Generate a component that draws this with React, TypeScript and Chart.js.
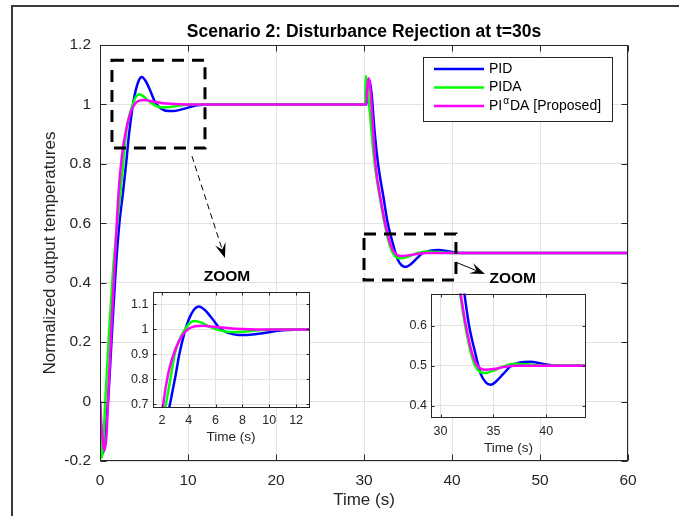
import React, { useEffect, useRef } from "react";
import { Chart, registerables } from "chart.js";

Chart.register(...registerables);

const FONT = "'Liberation Sans', Arial, Helvetica, sans-serif";
const INK = "#262626";
const GRID = "#e2e2e2";

// ---- Series data ----
const T_PID = [0, 0.15, 0.3, 0.5, 0.75, 1.0, 1.3, 1.8, 2.2, 2.6, 3.0, 3.3, 3.7, 4.0, 4.4, 4.75, 5.2, 5.8, 6.3, 7.0, 7.7, 8.4, 9.5, 11, 13, 30, 30.3, 30.45, 30.6, 30.85, 31.2, 31.6, 32.2, 32.7, 33.3, 33.8, 34.3, 34.75, 35.3, 36.0, 36.7, 37.5, 38.5, 39.5, 41, 44, 60];
const Y_PID = [0, -0.12, -0.175, -0.15, -0.06, 0.04, 0.2, 0.45, 0.6, 0.7, 0.81, 0.9, 0.99, 1.04, 1.08, 1.092, 1.078, 1.04, 1.005, 0.985, 0.978, 0.978, 0.985, 0.997, 1.0, 1.0, 1.0, 1.06, 1.082, 1.04, 0.91, 0.8, 0.69, 0.6, 0.53, 0.48, 0.458, 0.453, 0.462, 0.482, 0.5, 0.508, 0.51, 0.506, 0.5, 0.5, 0.5];

const T_PIDA = [0, 0.1, 0.2, 0.35, 0.6, 1.0, 1.5, 1.9, 2.3, 2.6, 2.95, 3.4, 3.84, 4.1, 4.45, 4.9, 5.5, 6.2, 7.0, 8.0, 9.0, 10.5, 12, 30, 30.12, 30.2, 30.35, 30.7, 31.0, 31.3, 31.9, 32.4, 33.0, 33.5, 34.2, 35.0, 36.0, 37.0, 38.5, 40, 60];
const Y_PIDA = [0, -0.15, -0.19, -0.15, 0.0, 0.22, 0.45, 0.58, 0.7, 0.79, 0.9, 0.97, 1.01, 1.027, 1.034, 1.028, 1.012, 0.998, 0.99, 0.991, 0.996, 1.0, 1.0, 1.0, 1.0, 1.096, 1.07, 0.96, 0.86, 0.78, 0.67, 0.59, 0.52, 0.49, 0.482, 0.488, 0.499, 0.505, 0.503, 0.5, 0.5];

const T_PIADA = [0, 0.2, 0.5, 0.75, 1.0, 1.3, 1.6, 2.1, 2.5, 3.0, 3.5, 4.0, 4.5, 5.0, 6.0, 7.0, 8.0, 10, 30, 30.25, 30.35, 30.5, 30.7, 31.0, 31.3, 31.9, 32.4, 33.0, 33.5, 34.2, 35.0, 36.0, 37.0, 60];
const Y_PIADA = [0, -0.09, -0.165, -0.11, 0.06, 0.25, 0.42, 0.7, 0.83, 0.92, 0.975, 1.003, 1.013, 1.015, 1.01, 1.005, 1.002, 1.0, 1.0, 1.0, 1.05, 1.088, 1.06, 0.93, 0.8, 0.68, 0.6, 0.53, 0.5, 0.49, 0.492, 0.497, 0.5, 0.5];

const SERIES_LABELS = ["PID", "PIDA", "PIαDA [Proposed]"];
const SERIES_COLORS = ["#0000ff", "#00ff00", "#ff00ff"];

// ---- Axes / ticks ----
const MAIN_X_TICKS = [0, 10, 20, 30, 40, 50, 60];
const MAIN_Y_TICKS = [-0.2, 0, 0.2, 0.4, 0.6, 0.8, 1, 1.2];
const MAIN_X_RANGE = [0, 60];
const MAIN_Y_RANGE = [-0.2, 1.2];

const ZOOM1_X_TICKS = [2, 4, 6, 8, 10, 12];
const ZOOM1_Y_TICKS = [0.7, 0.8, 0.9, 1, 1.1];
const ZOOM1_X_RANGE = [1.3, 13];
const ZOOM1_Y_RANGE = [0.685, 1.152];

const ZOOM2_X_TICKS = [30, 35, 40];
const ZOOM2_Y_TICKS = [0.4, 0.5, 0.6];
const ZOOM2_X_RANGE = [29.1, 43.75];
const ZOOM2_Y_RANGE = [0.37, 0.68];

// ---- Annotations (main-axes data coordinates) ----
const ZOOM_BOX_1 = [1.36, 11.93, 0.853, 1.149];
const ZOOM_BOX_2 = [30.0, 40.45, 0.409, 0.564];
const ARROW_1 = [10.45, 0.826, 14.2, 0.483];
const ARROW_2 = [40.45, 0.469, 43.75, 0.429];
const ZOOM_LABEL_1 = [14.43, 0.419];
const ZOOM_LABEL_2 = [46.9, 0.415];

const TITLE = "Scenario 2: Disturbance Rejection at t=30s";
const X_TITLE = "Time (s)";
const Y_TITLE = "Normalized output temperatures";

const fmt = (v: number) => String(Math.round(v * 10) / 10);

function makeDatasets() {
  const src = [
    [T_PID, Y_PID, 2],
    [T_PIDA, Y_PIDA, 1],
    [T_PIADA, Y_PIADA, 0],
  ] as [number[], number[], number][];
  return src.map(([t, y, order], i) => ({
    label: SERIES_LABELS[i],
    data: t.map((tv, k) => ({ x: tv, y: y[k] })),
    borderColor: SERIES_COLORS[i],
    backgroundColor: SERIES_COLORS[i],
    borderWidth: 2.5,
    pointRadius: 0,
    fill: false,
    cubicInterpolationMode: "monotone" as const,
    order,
  }));
}

function scaleCfg(axis: "x" | "y", range: number[], ticksArr: number[], size: number, pad: number, fit: number) {
  return {
    type: "linear" as const,
    min: range[0],
    max: range[1],
    afterBuildTicks: (s: any) => {
      s.ticks = ticksArr.map((v) => ({ value: v }));
    },
    afterFit: (s: any) => {
      if (axis === "x") s.height = fit;
      else s.width = fit;
    },
    grid: { color: GRID, drawTicks: false, lineWidth: 1 },
    border: { display: false },
    ticks: {
      color: INK,
      font: { family: FONT, size },
      padding: pad,
      autoSkip: false,
      maxRotation: 0,
      callback: (v: any) => fmt(Number(v)),
    },
  };
}

function drawBox(chart: any, xt: number[], yt: number[], len: number) {
  const { ctx, chartArea, scales } = chart;
  const { left, right, top, bottom } = chartArea;
  ctx.save();
  ctx.strokeStyle = INK;
  ctx.lineWidth = 1;
  const L = Math.round(left) + 0.5;
  const R = Math.round(right) - 0.5;
  const T = Math.round(top) + 0.5;
  const B = Math.round(bottom) - 0.5;
  ctx.strokeRect(L, T, R - L, B - T);
  ctx.beginPath();
  xt.forEach((v) => {
    const px = Math.round(scales.x.getPixelForValue(v)) + 0.5;
    ctx.moveTo(px, B);
    ctx.lineTo(px, B - len);
    ctx.moveTo(px, T);
    ctx.lineTo(px, T + len);
  });
  yt.forEach((v) => {
    const py = Math.round(scales.y.getPixelForValue(v)) + 0.5;
    ctx.moveTo(L, py);
    ctx.lineTo(L + len, py);
    ctx.moveTo(R, py);
    ctx.lineTo(R - len, py);
  });
  ctx.stroke();
  ctx.restore();
}

function drawArrowHead(ctx: CanvasRenderingContext2D, x0: number, y0: number, x1: number, y1: number, L: number, W: number) {
  const dx = x1 - x0;
  const dy = y1 - y0;
  const d = Math.hypot(dx, dy);
  const ux = dx / d;
  const uy = dy / d;
  const nx = -uy;
  const ny = ux;
  ctx.beginPath();
  ctx.moveTo(x1, y1);
  ctx.lineTo(x1 - ux * L + nx * W / 2, y1 - uy * L + ny * W / 2);
  ctx.lineTo(x1 - ux * L * 0.6, y1 - uy * L * 0.6);
  ctx.lineTo(x1 - ux * L - nx * W / 2, y1 - uy * L - ny * W / 2);
  ctx.closePath();
  ctx.fill();
  return [x1 - ux * L * 0.6, y1 - uy * L * 0.6];
}

const mainDecor = {
  id: "mainDecor",
  beforeDraw(chart: any) {
    const { ctx, width, height } = chart;
    ctx.save();
    ctx.fillStyle = "#ffffff";
    ctx.fillRect(0, 0, width, height);
    ctx.restore();
  },
  afterDatasetsDraw(chart: any) {
    drawBox(chart, MAIN_X_TICKS, MAIN_Y_TICKS, 6);
  },
  afterDraw(chart: any) {
    const { ctx, chartArea, scales, width, height } = chart;
    const { left, right, top, bottom } = chartArea;
    const X = (v: number) => scales.x.getPixelForValue(v);
    const Y = (v: number) => scales.y.getPixelForValue(v);
    ctx.save();
    // figure frame
    ctx.strokeStyle = "#3a3a3a";
    ctx.lineWidth = 2;
    ctx.beginPath();
    ctx.moveTo(width, 6);
    ctx.lineTo(12, 6);
    ctx.lineTo(12, height);
    ctx.stroke();

    // title
    ctx.fillStyle = "#000";
    ctx.textAlign = "center";
    ctx.textBaseline = "middle";
    ctx.font = `bold 17.5px ${FONT}`;
    ctx.fillText(TITLE, (left + right) / 2, 32);

    // axis titles
    ctx.fillStyle = INK;
    ctx.font = `17px ${FONT}`;
    ctx.fillText(X_TITLE, (left + right) / 2, 500);
    ctx.save();
    ctx.translate(50, (top + bottom) / 2);
    ctx.rotate(-Math.PI / 2);
    ctx.fillText(Y_TITLE, 0, 0);
    ctx.restore();

    // dashed zoom boxes
    ctx.strokeStyle = "#000";
    ctx.lineWidth = 3;
    ctx.setLineDash([12, 8]);
    [ZOOM_BOX_1, ZOOM_BOX_2].forEach((b) => {
      const x0 = X(b[0]);
      const x1 = X(b[1]);
      const y0 = Y(b[3]);
      const y1 = Y(b[2]);
      ctx.strokeRect(x0, y0, x1 - x0, y1 - y0);
    });

    // arrows
    ctx.fillStyle = "#000";
    ctx.lineWidth = 1;
    {
      const [ax0, ay0, ax1, ay1] = [X(ARROW_1[0]), Y(ARROW_1[1]), X(ARROW_1[2]), Y(ARROW_1[3])];
      ctx.setLineDash([]);
      const [nx, ny] = drawArrowHead(ctx, ax0, ay0, ax1, ay1, 15, 11);
      ctx.setLineDash([6, 4]);
      ctx.beginPath();
      ctx.moveTo(ax0, ay0);
      ctx.lineTo(nx, ny);
      ctx.stroke();
    }
    {
      const [ax0, ay0, ax1, ay1] = [X(ARROW_2[0]), Y(ARROW_2[1]), X(ARROW_2[2]), Y(ARROW_2[3])];
      ctx.setLineDash([]);
      const [nx, ny] = drawArrowHead(ctx, ax0, ay0, ax1, ay1, 15, 11);
      ctx.beginPath();
      ctx.moveTo(ax0, ay0);
      ctx.lineTo(nx, ny);
      ctx.stroke();
    }
    ctx.setLineDash([]);

    // ZOOM labels
    ctx.fillStyle = "#000";
    ctx.font = `bold 15.5px ${FONT}`;
    ctx.textAlign = "center";
    ctx.fillText("ZOOM", X(ZOOM_LABEL_1[0]), Y(ZOOM_LABEL_1[1]));
    ctx.fillText("ZOOM", X(ZOOM_LABEL_2[0]), Y(ZOOM_LABEL_2[1]));

    // legend
    const lx = 423;
    const ly = 57;
    const lw = 189;
    const lh = 64;
    ctx.fillStyle = "#fff";
    ctx.fillRect(lx, ly, lw, lh);
    ctx.strokeStyle = INK;
    ctx.lineWidth = 1;
    ctx.strokeRect(lx + 0.5, ly + 0.5, lw, lh);
    const rows = [69, 87.5, 106];
    chart.data.datasets.forEach((ds: any, i: number) => {
      const ry = rows[i];
      ctx.strokeStyle = ds.borderColor;
      ctx.lineWidth = 2.5;
      ctx.beginPath();
      ctx.moveTo(434, ry);
      ctx.lineTo(484, ry);
      ctx.stroke();
      ctx.fillStyle = "#000";
      ctx.textAlign = "left";
      ctx.textBaseline = "middle";
      const parts = String(ds.label).split("α");
      let tx = 489;
      ctx.font = `14px ${FONT}`;
      ctx.fillText(parts[0], tx, ry);
      tx += ctx.measureText(parts[0]).width;
      if (parts.length > 1) {
        ctx.font = `10px ${FONT}`;
        ctx.fillText("α", tx + 1, ry - 5);
        tx += ctx.measureText("α").width + 2;
        ctx.font = `14px ${FONT}`;
        ctx.fillText(parts[1], tx, ry);
      }
    });
    ctx.restore();
  },
};

function insetDecor(xt: number[], yt: number[], labelY: number) {
  return {
    id: "insetDecor",
    beforeDraw(chart: any) {
      const { ctx, chartArea } = chart;
      ctx.save();
      ctx.fillStyle = "#fff";
      ctx.fillRect(chartArea.left, chartArea.top, chartArea.right - chartArea.left, chartArea.bottom - chartArea.top);
      ctx.restore();
    },
    afterDatasetsDraw(chart: any) {
      drawBox(chart, xt, yt, 3);
    },
    afterDraw(chart: any) {
      const { ctx, chartArea } = chart;
      ctx.save();
      ctx.fillStyle = INK;
      ctx.font = `13.5px ${FONT}`;
      ctx.textAlign = "center";
      ctx.textBaseline = "middle";
      ctx.fillText(X_TITLE, (chartArea.left + chartArea.right) / 2, labelY);
      ctx.restore();
    },
  };
}

function mainConfig(): any {
  return {
    type: "line",
    data: { datasets: makeDatasets() },
    options: {
      animation: false,
      responsive: false,
      maintainAspectRatio: false,
      events: [],
      layout: { padding: { left: 0, top: 45, right: 51, bottom: 0 } },
      plugins: { legend: { display: false }, tooltip: { enabled: false }, title: { display: false } },
      scales: {
        x: scaleCfg("x", MAIN_X_RANGE, MAIN_X_TICKS, 15.5, 10, 55),
        y: scaleCfg("y", MAIN_Y_RANGE, MAIN_Y_TICKS, 15.5, 9, 100),
      },
    },
    plugins: [mainDecor],
  };
}

function insetConfig(xr: number[], yr: number[], xt: number[], yt: number[], pad: any, xh: number, yw: number, xpad: number, labelY: number): any {
  return {
    type: "line",
    data: { datasets: makeDatasets() },
    options: {
      animation: false,
      responsive: false,
      maintainAspectRatio: false,
      events: [],
      layout: { padding: pad },
      plugins: { legend: { display: false }, tooltip: { enabled: false }, title: { display: false } },
      scales: {
        x: scaleCfg("x", xr, xt, 12.5, xpad, xh),
        y: scaleCfg("y", yr, yt, 12.5, 4, yw),
      },
    },
    plugins: [insetDecor(xt, yt, labelY)],
  };
}

export default function App() {
  const mainRef = useRef<HTMLCanvasElement>(null);
  const z1Ref = useRef<HTMLCanvasElement>(null);
  const z2Ref = useRef<HTMLCanvasElement>(null);

  useEffect(() => {
    const charts = [
      new Chart(mainRef.current!, mainConfig()),
      new Chart(
        z1Ref.current!,
        insetConfig(ZOOM1_X_RANGE, ZOOM1_Y_RANGE, ZOOM1_X_TICKS, ZOOM1_Y_TICKS, { left: 0, top: 11, right: 10.5, bottom: 0 }, 42, 52.5, 5, 157)
      ),
      new Chart(
        z2Ref.current!,
        insetConfig(ZOOM2_X_RANGE, ZOOM2_Y_RANGE, ZOOM2_X_TICKS, ZOOM2_Y_TICKS, { left: 0, top: 10, right: 9, bottom: 0 }, 39, 51, 6, 166)
      ),
    ];
    return () => charts.forEach((c) => c.destroy());
  }, []);

  return (
    <div style={{ position: "fixed", left: 0, top: 0, width: 679, height: 516, background: "#fff", overflow: "hidden" }}>
      <canvas ref={mainRef} width={679} height={516} style={{ position: "absolute", left: 0, top: 0 }} />
      <canvas ref={z1Ref} width={220} height={170} style={{ position: "absolute", left: 100, top: 280 }} />
      <canvas ref={z2Ref} width={215} height={175} style={{ position: "absolute", left: 380, top: 282 }} />
    </div>
  );
}
